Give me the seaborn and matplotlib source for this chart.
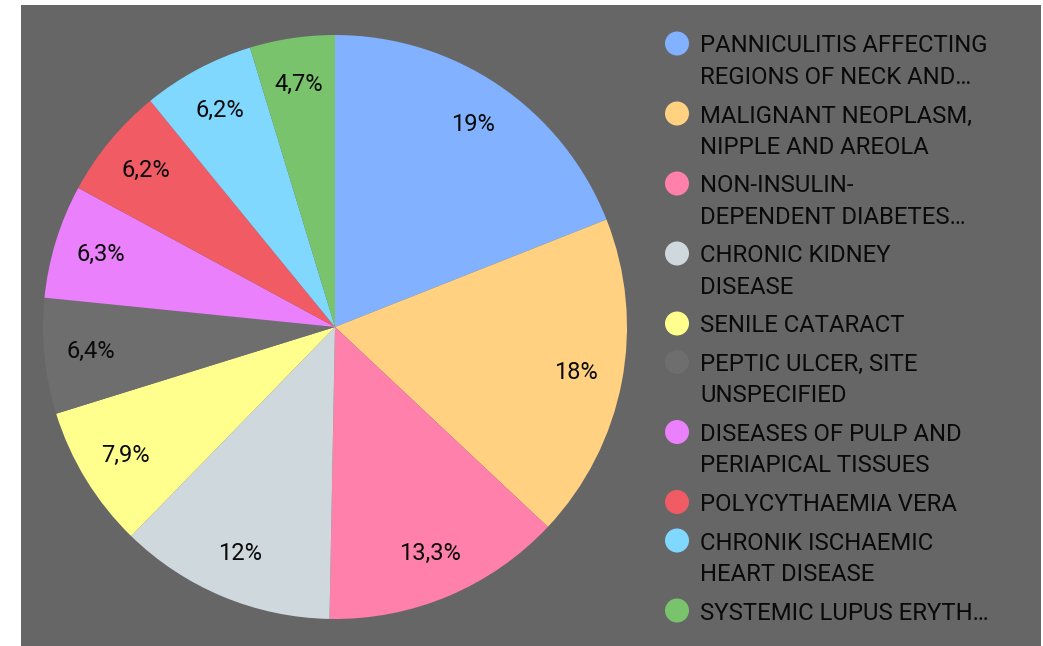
import seaborn as sns
import matplotlib.pyplot as plt
from matplotlib.patches import Rectangle

categories = [
    "PANNICULITIS AFFECTING\nREGIONS OF NECK AND\u2026",
    "MALIGNANT NEOPLASM,\nNIPPLE AND AREOLA",
    "NON-INSULIN-\nDEPENDENT DIABETES\u2026",
    "CHRONIC KIDNEY\nDISEASE",
    "SENILE CATARACT",
    "PEPTIC ULCER, SITE\nUNSPECIFIED",
    "DISEASES OF PULP AND\nPERIAPICAL TISSUES",
    "POLYCYTHAEMIA VERA",
    "CHRONIK ISCHAEMIC\nHEART DISEASE",
    "SYSTEMIC LUPUS ERYTH\u2026",
]
shares = [19, 18, 13.3, 12, 7.9, 6.4, 6.3, 6.2, 6.2, 4.7]
colors = ["#82b1ff", "#ffd180", "#ff80ab", "#cfd8dc", "#ffff8d",
          "#6e6e6e", "#ea80fc", "#f05b64", "#80d8ff", "#79c36d"]

sns.set_style("white")
plt.rcParams["font.family"] = ["Roboto", "DejaVu Sans"]

bg = "#666666"
ink = "#0a0a0a"
W, H = 1043, 646

fig = plt.figure(figsize=(W / 100, H / 100), dpi=100, facecolor="white")
fig.patches.append(Rectangle((21 / W, 0), 1020 / W, 641 / H,
                             transform=fig.transFigure, facecolor=bg,
                             edgecolor="none", zorder=-5))

# pie
cx, cy, r = 335, 327, 292
ax = fig.add_axes([(cx - r) / W, (H - cy - r) / H, 2 * r / W, 2 * r / H])
ax.patch.set_alpha(0)
palette = sns.color_palette(colors)
pct_labels = [f"{v:g}".replace(".", ",") + "%" for v in shares]
wedges, texts = ax.pie(shares, colors=palette, startangle=90, counterclock=False,
                       radius=1, labels=pct_labels, labeldistance=0.84,
                       wedgeprops=dict(linewidth=0),
                       textprops=dict(fontsize=17, color=ink,
                                      ha="center", va="center"))
ax.set_xlim(-1, 1)
ax.set_ylim(-1, 1)
ax.set_axis_off()

# legend
lg = fig.add_axes([0, 0, 1, 1])
lg.patch.set_alpha(0)
lg.set_xlim(0, W)
lg.set_ylim(H, 0)
lg.set_axis_off()
y = 43.5
for lab, c in zip(categories, palette):
    lg.scatter([677], [y], s=(24 * 0.72) ** 2, color=c, edgecolor="none")
    for i, line in enumerate(lab.split("\n")):
        lg.text(700, y + i * 31.5, line, fontsize=17.2, color=ink,
                ha="left", va="center_baseline")
    y += 31.5 * (len(lab.split("\n")) - 1) + 38.5

fig.savefig("out.png", dpi=100, facecolor="white")
